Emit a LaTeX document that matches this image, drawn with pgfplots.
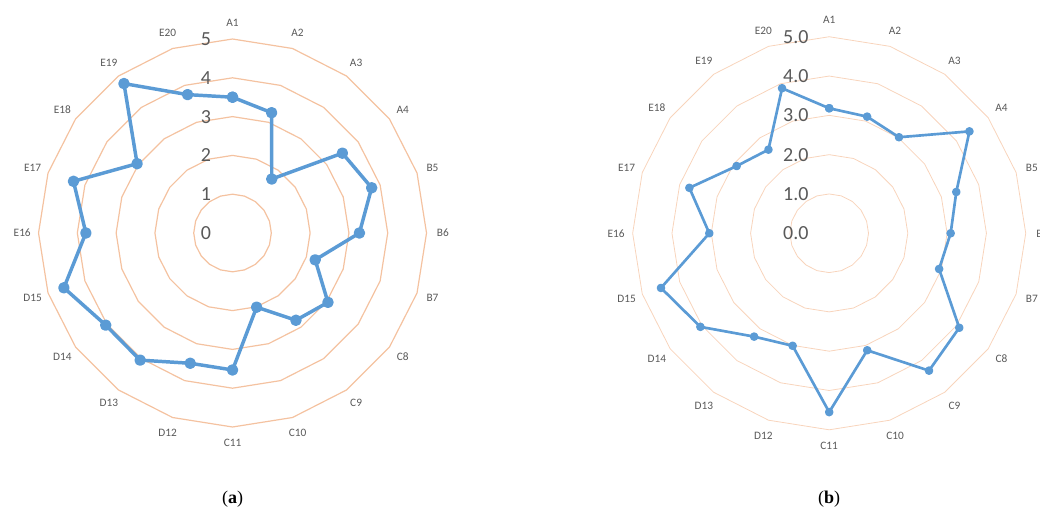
\documentclass[border=0pt]{standalone}
\usepackage{fontspec}
\setmainfont{Carlito}
\newfontfamily\capfont{Liberation Serif}
\usepackage{pgfplots}
\usepackage{pgfplotstable}
\usepgfplotslibrary{polar}
\pgfplotsset{compat=1.18}
\definecolor{ringa}{HTML}{F4C2A0}
\definecolor{ringb}{HTML}{F8D4BC}
\definecolor{blu}{HTML}{5B9BD5}
\definecolor{txt}{HTML}{595959}

\pgfplotstableread{
ang one
0 1
18 1
36 1
54 1
72 1
90 1
108 1
126 1
144 1
162 1
180 1
198 1
216 1
234 1
252 1
270 1
288 1
306 1
324 1
342 1
360 1
}\angtab

\pgfplotstableread{
cat ang va vb
A1 90 3.50 3.18
A2 72 3.26 3.12
A3 54 1.72 3.02
A4 36 3.50 4.41
B5 18 3.77 3.40
B6 0 3.27 3.09
B7 -18 2.24 2.94
C8 -36 3.04 4.09
C9 -54 2.78 4.32
C10 -72 2.01 3.13
C11 -90 3.53 4.55
D12 -108 3.53 3.01
D13 -126 4.05 3.25
D14 -144 4.04 4.05
D15 -162 4.57 4.50
E16 -180 3.78 3.05
E17 -198 4.31 3.74
E18 -216 3.04 2.91
E19 -234 4.76 2.63
E20 -252 3.75 3.88
A1 -270 3.50 3.18
}\datatab

\newcommand{\catlabels}{%
\node[catlab] at (axis cs:90,5.42) {A1};
\node[catlab] at (axis cs:72,5.42) {A2};
\node[catlab] at (axis cs:54,5.42) {A3};
\node[catlab] at (axis cs:36,5.42) {A4};
\node[catlab] at (axis cs:18,5.42) {B5};
\node[catlab] at (axis cs:0,5.42) {B6};
\node[catlab] at (axis cs:-18,5.42) {B7};
\node[catlab] at (axis cs:-36,5.42) {C8};
\node[catlab] at (axis cs:-54,5.42) {C9};
\node[catlab] at (axis cs:-72,5.42) {C10};
\node[catlab] at (axis cs:-90,5.42) {C11};
\node[catlab] at (axis cs:-108,5.42) {D12};
\node[catlab] at (axis cs:-126,5.42) {D13};
\node[catlab] at (axis cs:-144,5.42) {D14};
\node[catlab] at (axis cs:-162,5.42) {D15};
\node[catlab] at (axis cs:-180,5.42) {E16};
\node[catlab] at (axis cs:-198,5.42) {E17};
\node[catlab] at (axis cs:-216,5.42) {E18};
\node[catlab] at (axis cs:-234,5.42) {E19};
\node[catlab] at (axis cs:-252,5.42) {E20};
}

\tikzset{
  catlab/.style={font=\fontsize{8.5}{9}\selectfont, text=txt, inner sep=0pt, anchor=center},
  ringlab/.style={font=\fontsize{15}{16}\selectfont, text=txt, inner sep=0pt, anchor=east},
}

\begin{document}
\begin{tikzpicture}
\path[use as bounding box] (0,0) rectangle (780pt,386.25pt);

% ---------------- (a)
\begin{polaraxis}[
  at={(174.4pt,211.5pt)}, anchor=center,
  scale only axis, width=291pt, height=291pt,
  ymin=0, ymax=5, hide axis, clip=false,
]
\addplot[draw=ringa, line width=0.9pt, mark=none] table[x=ang, y expr=1] {\angtab};
\addplot[draw=ringa, line width=0.9pt, mark=none] table[x=ang, y expr=2] {\angtab};
\addplot[draw=ringa, line width=0.9pt, mark=none] table[x=ang, y expr=3] {\angtab};
\addplot[draw=ringa, line width=0.9pt, mark=none] table[x=ang, y expr=4] {\angtab};
\addplot[draw=ringa, line width=0.9pt, mark=none] table[x=ang, y expr=5] {\angtab};
\addplot[draw=blu, line width=2.6pt, line join=round, mark=*, mark size=3pt,
  mark options={fill=blu, draw=none}] table[x=ang, y=va] {\datatab};
\catlabels
\node[ringlab, xshift=-16pt] at (axis cs:90,0) {0};
\node[ringlab, xshift=-16pt] at (axis cs:90,1) {1};
\node[ringlab, xshift=-16pt] at (axis cs:90,2) {2};
\node[ringlab, xshift=-16pt] at (axis cs:90,3) {3};
\node[ringlab, xshift=-16pt] at (axis cs:90,4) {4};
\node[ringlab, xshift=-16pt] at (axis cs:90,5) {5};
\end{polaraxis}

% ---------------- (b)
\begin{polaraxis}[
  at={(621.9pt,211.3pt)}, anchor=center,
  scale only axis, width=294.8pt, height=294.8pt,
  ymin=0, ymax=5, hide axis, clip=false,
]
\addplot[draw=ringb, line width=0.6pt, mark=none] table[x=ang, y expr=1] {\angtab};
\addplot[draw=ringb, line width=0.6pt, mark=none] table[x=ang, y expr=2] {\angtab};
\addplot[draw=ringb, line width=0.6pt, mark=none] table[x=ang, y expr=3] {\angtab};
\addplot[draw=ringb, line width=0.6pt, mark=none] table[x=ang, y expr=4] {\angtab};
\addplot[draw=ringb, line width=0.6pt, mark=none] table[x=ang, y expr=5] {\angtab};
\addplot[draw=blu, line width=2pt, line join=round, mark=*, mark size=2.2pt,
  mark options={fill=blu, draw=none}] table[x=ang, y=vb] {\datatab};
\catlabels
\node[ringlab, xshift=-15.3pt] at (axis cs:90,0) {0.0};
\node[ringlab, xshift=-15.3pt] at (axis cs:90,1) {1.0};
\node[ringlab, xshift=-15.3pt] at (axis cs:90,2) {2.0};
\node[ringlab, xshift=-15.3pt] at (axis cs:90,3) {3.0};
\node[ringlab, xshift=-15.3pt] at (axis cs:90,4) {4.0};
\node[ringlab, xshift=-15.3pt] at (axis cs:90,5) {5.0};
\end{polaraxis}

\node[font=\capfont\fontsize{13.5}{15}\selectfont, text=black] at (174.4pt,11.5pt) {(\textbf{a})};
\node[font=\capfont\fontsize{13.5}{15}\selectfont, text=black] at (621.9pt,11.5pt) {(\textbf{b})};
\end{tikzpicture}
\end{document}
